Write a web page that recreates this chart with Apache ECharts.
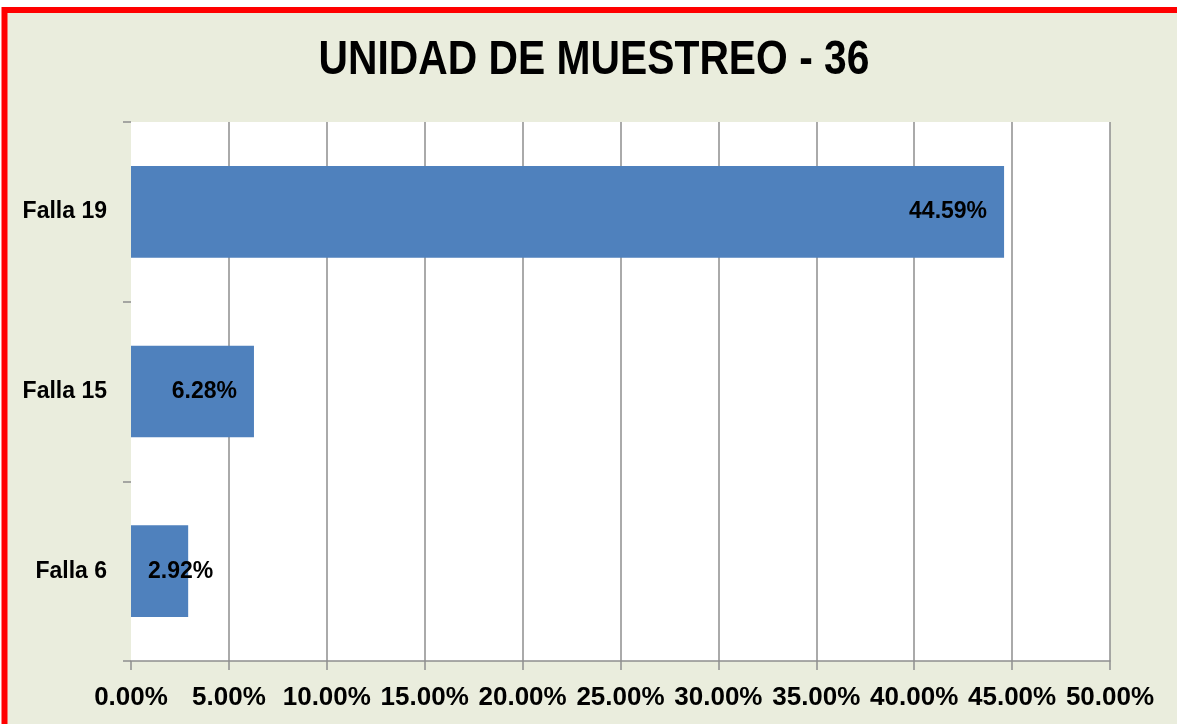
<!DOCTYPE html>
<html>
<head>
<meta charset="utf-8">
<script src="https://cdn.jsdelivr.net/npm/echarts@6/dist/echarts.min.js"></script>
<style>
  html, body { margin: 0; padding: 0; background: #ffffff; }
  #chart { width: 1177px; height: 724px; }
</style>
</head>
<body>
<div id="chart"></div>
<script>
// Fault categories (bottom to top) and their share of the sampling unit, in percent
const categories = ['Falla 6', 'Falla 15', 'Falla 19'];
const values = [2.92, 6.28, 44.59];
const titleText = 'UNIDAD DE MUESTREO - 36';

const fmtPct = v => Number(v).toFixed(2) + '%';

const chart = echarts.init(document.getElementById('chart'), null, { renderer: 'canvas' });

const seriesData = values.map((v, i) => {
  const item = { value: v };
  // the smallest bar is too short to hold its label, so it starts from the bar's base
  if (i === 0) {
    item.label = { position: 'insideLeft', distance: 17 };
  }
  return item;
});

chart.setOption({
  backgroundColor: '#ffffff',
  animation: false,
  graphic: [
    {
      type: 'rect',
      z: -10,
      shape: { x: 4.5, y: 10, width: 1400, height: 1000 },
      style: { fill: '#EAEDDD', stroke: '#FF0000', lineWidth: 6 }
    },
    {
      type: 'text',
      x: 594,
      y: 61,
      scaleX: 0.85,
      style: {
        text: titleText,
        font: 'bold 48px "Liberation Sans", Arial, sans-serif',
        fill: '#000000',
        textAlign: 'center',
        textVerticalAlign: 'middle'
      }
    }
  ],
  grid: {
    left: 131,
    right: 67,
    top: 122,
    bottom: 63,
    show: true,
    backgroundColor: '#ffffff',
    borderWidth: 0
  },
  xAxis: {
    type: 'value',
    min: 0,
    max: 50,
    interval: 5,
    axisLine: { show: true, lineStyle: { color: '#8E8E8E', width: 1.5 } },
    axisTick: { show: true, length: 9, lineStyle: { color: '#8E8E8E', width: 1.5 } },
    splitLine: { show: true, showMinLine: false, lineStyle: { color: '#8E8E8E', width: 1.5 } },
    axisLabel: {
      formatter: fmtPct,
      color: '#000000',
      fontFamily: '"Liberation Sans", Arial, sans-serif',
      fontWeight: 'bold',
      fontSize: 26,
      margin: 24
    }
  },
  yAxis: {
    type: 'category',
    data: categories,
    axisLine: { show: false },
    axisTick: { show: true, length: 8, lineStyle: { color: '#8E8E8E', width: 1.5 } },
    axisLabel: {
      color: '#000000',
      fontFamily: '"Liberation Sans", Arial, sans-serif',
      fontWeight: 'bold',
      fontSize: 23,
      margin: 24
    }
  },
  series: [
    {
      type: 'bar',
      data: seriesData,
      barCategoryGap: '49%',
      itemStyle: { color: '#4F81BD' },
      label: {
        show: true,
        position: 'insideRight',
        distance: 17,
        formatter: p => fmtPct(p.value),
        color: '#000000',
        fontFamily: '"Liberation Sans", Arial, sans-serif',
        fontWeight: 'bold',
        fontSize: 23
      }
    }
  ]
});
</script>
</body>
</html>
